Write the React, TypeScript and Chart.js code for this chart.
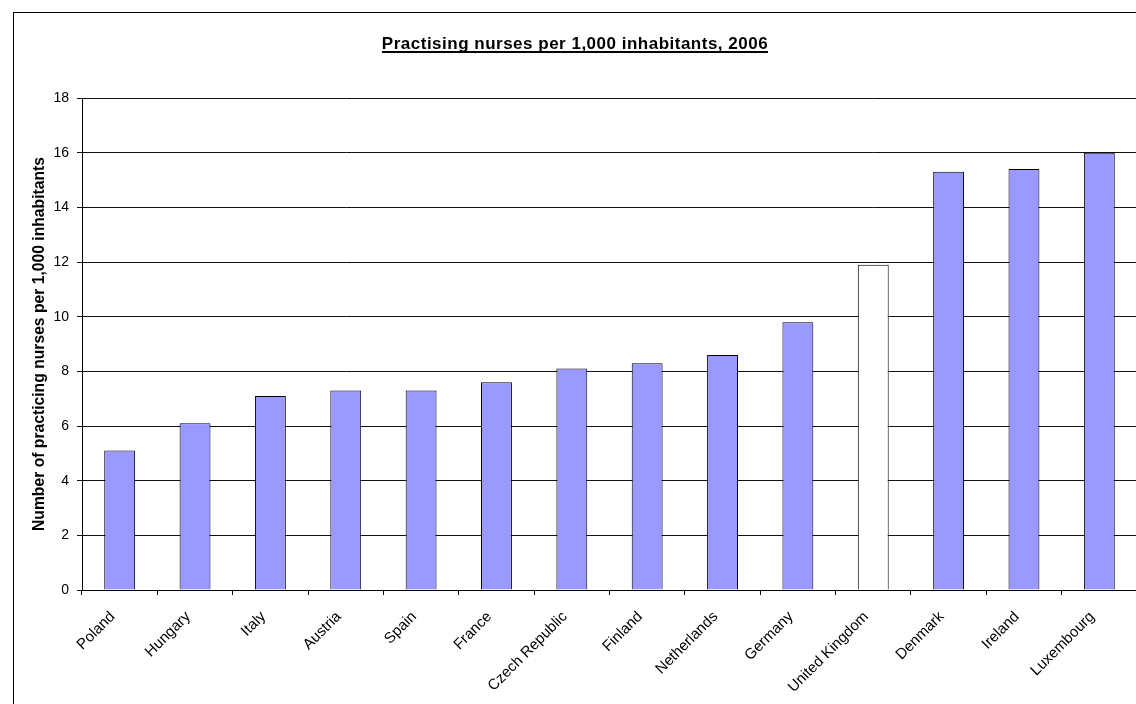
import React, { useEffect, useRef } from "react";
import { Chart, registerables } from "chart.js";

Chart.register(...registerables);

const categories = [
  "Poland", "Hungary", "Italy", "Austria", "Spain", "France", "Czech Republic",
  "Finland", "Netherlands", "Germany", "United Kingdom", "Denmark", "Ireland", "Luxembourg",
];
const nursesPer1000 = [5.1, 6.1, 7.1, 7.3, 7.3, 7.6, 8.1, 8.3, 8.6, 9.8, 11.9, 15.3, 15.4, 16.0];
const highlightCategory = "United Kingdom";
const titleText = "Practising nurses per 1,000 inhabitants, 2006";
const yAxisTitle = "Number of practicing nurses per 1,000 inhabitants";
const yMin = 0;
const yMax = 18;
const yStep = 2;

const FONT = "Arial, 'Liberation Sans', sans-serif";

const framePlugin = {
  id: "frameAndTitle",
  beforeDraw(chart: any) {
    const ctx = chart.ctx;
    ctx.save();
    ctx.fillStyle = "#fff";
    ctx.fillRect(0, 0, chart.width, chart.height);
    ctx.strokeStyle = "#000";
    ctx.lineWidth = 1;
    ctx.strokeRect(13.5, 12.5, 3000, 3000);
    ctx.restore();
  },
  afterDraw(chart: any) {
    const ctx = chart.ctx;
    ctx.save();
    ctx.font = `bold 17px ${FONT}`;
    try {
      (ctx as any).letterSpacing = "0.5px";
    } catch (e) {}
    ctx.fillStyle = "#000";
    ctx.textAlign = "center";
    ctx.textBaseline = "alphabetic";
    const cx = 575;
    const by = 49;
    ctx.fillText(titleText, cx, by);
    const w = ctx.measureText(titleText).width;
    ctx.fillRect(Math.round(cx - w / 2), by + 2, Math.round(w), 2);
    ctx.restore();
  },
};

export default function App() {
  const ref = useRef<HTMLCanvasElement>(null);
  useEffect(() => {
    if (!ref.current) return;
    const chart = new Chart(ref.current, {
      type: "bar",
      data: {
        labels: categories,
        datasets: [
          {
            data: nursesPer1000,
            backgroundColor: categories.map((c) => (c === highlightCategory ? "#ffffff" : "#9999ff")),
            borderColor: "#000",
            borderWidth: 1,
            barPercentage: 0.41,
            categoryPercentage: 1,
          },
        ],
      },
      options: {
        responsive: false,
        animation: false,
        devicePixelRatio: 1,
        layout: { padding: { top: 98, left: 0, right: 3, bottom: 0 } },
        plugins: { legend: { display: false }, title: { display: false }, tooltip: { enabled: false } },
        scales: {
          x: {
            offset: true,
            grid: { display: true, drawOnChartArea: false, drawTicks: true, tickLength: 5, color: "#000", offset: true },
            border: { display: true, color: "#000" },
            ticks: {
              color: "#000",
              font: { family: FONT, size: 15 },
              minRotation: 45,
              maxRotation: 45,
              autoSkip: false,
              padding: 13,
              labelOffset: -7,
            },
            afterFit(scale: any) {
              scale.height = 114;
            },
          },
          y: {
            min: yMin,
            max: yMax,
            ticks: { stepSize: yStep, color: "#000", font: { family: FONT, size: 14 }, padding: 8 },
            grid: { color: "#111", tickLength: 5, drawTicks: true },
            border: { display: true, color: "#000" },
            title: {
              display: true,
              text: yAxisTitle,
              color: "#000",
              font: { family: FONT, size: 15.7, weight: "bold" },
              padding: { top: 30, bottom: 0 },
            },
            afterFit(scale: any) {
              scale.width = 82;
            },
          },
        },
      },
      plugins: [framePlugin],
    });
    return () => chart.destroy();
  }, []);
  return (
    <div style={{ position: "fixed", left: 0, top: 0, width: 1136, height: 704, overflow: "hidden", background: "#fff" }}>
      <canvas ref={ref} width={1140} height={704} style={{ display: "block" }} />
    </div>
  );
}
